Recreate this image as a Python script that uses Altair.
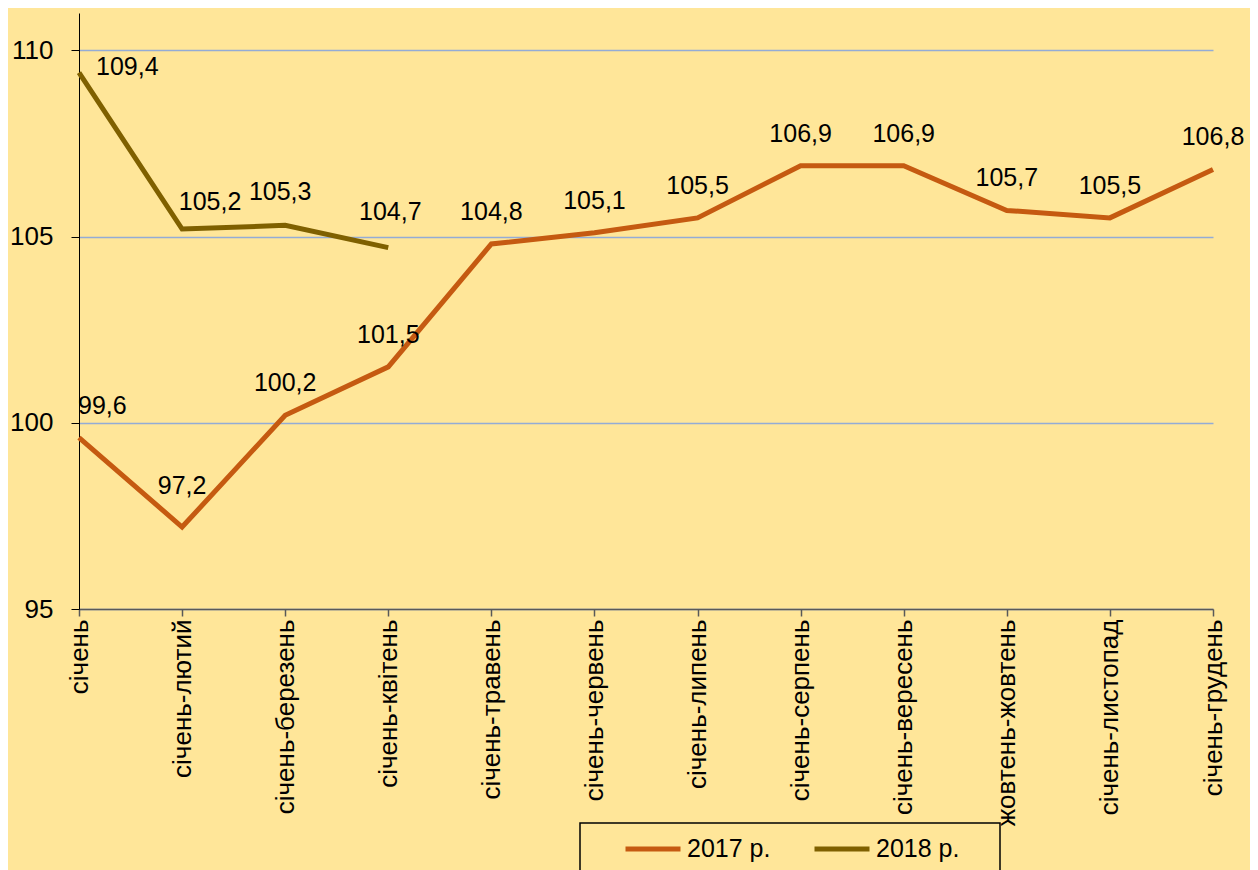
import altair as alt
import pandas as pd

months = ["січень", "січень-лютий", "січень-березень", "січень-квітень",
          "січень-травень", "січень-червень", "січень-липень", "січень-серпень",
          "січень-вересень", "жовтень-жовтень", "січень-листопад", "січень-грудень"]
v2017 = [99.6, 97.2, 100.2, 101.5, 104.8, 105.1, 105.5, 106.9, 106.9, 105.7, 105.5, 106.8]
v2018 = [109.4, 105.2, 105.3, 104.7]
series = ["2017 р.", "2018 р."]
colors = ["#C55A11", "#7F6000"]
y_ticks = [95, 100, 105, 110]

rows = []
for i, v in enumerate(v2017):
    rows.append({"month": months[i], "year": series[0], "value": v, "idx": i,
                 "label": f"{v:.1f}".replace(".", ",")})
for i, v in enumerate(v2018):
    rows.append({"month": months[i], "year": series[1], "value": v, "idx": i,
                 "label": f"{v:.1f}".replace(".", ",")})
df = pd.DataFrame(rows)

FONT = "Liberation Sans"

x_enc = alt.X("month:N", sort=months, title=None,
              scale=alt.Scale(type="point", padding=0),
              axis=alt.Axis(labelAngle=-90, labelAlign="right", labelBaseline="middle",
                            labelFontSize=26, labelFont=FONT, labelColor="#000000",
                            labelPadding=3, tickSize=7, tickColor="#595959",
                            domainColor="#595959", domainWidth=1.5, tickWidth=1.5,
                            grid=False, labelLimit=400))
y_enc = alt.Y("value:Q", title=None,
              scale=alt.Scale(domain=[95, 111], nice=False, zero=False),
              axis=alt.Axis(values=y_ticks, labelFontSize=26, labelFont=FONT,
                            labelColor="#000000", labelPadding=18, tickSize=8,
                            tickColor="#000000", domainColor="#000000", domainWidth=1,
                            grid=True, gridColor="#94ACD6", gridOpacity=1, gridWidth=1.3))

base = alt.Chart(df)

lines = base.mark_line(strokeWidth=5).encode(
    x=x_enc, y=y_enc,
    color=alt.Color("year:N", title=None,
                    scale=alt.Scale(domain=series, range=colors),
                    legend=alt.Legend(orient="none", legendX=544, legendY=806,
                                      direction="horizontal", symbolType="stroke",
                                      symbolStrokeWidth=5, symbolSize=3025,
                                      labelFontSize=25, labelFont=FONT,
                                      labelColor="#000000", columnPadding=33,
                                      labelOffset=4, padding=0))
)

def labels(year, cond, **kw):
    return base.transform_filter(
        (alt.datum.year == year) & cond
    ).mark_text(fontSize=25, font=FONT, color="#000000", **kw).encode(
        x=alt.X("month:N", sort=months), y="value:Q", text="label:N")

t17a = labels(series[0], alt.datum.idx == 0, align="left", dx=-1, dy=-32)
t17c = labels(series[0], alt.datum.idx == 1, align="center", dy=-41)
t17b = labels(series[0], alt.datum.idx > 1, align="center", dy=-32)
t18a = labels(series[1], alt.datum.idx == 0, align="left", dx=17, dy=-6)
t18b = labels(series[1], alt.datum.idx == 1, align="center", dx=28, dy=-27)
t18c = labels(series[1], alt.datum.idx == 2, align="center", dx=-5, dy=-33)
t18d = labels(series[1], alt.datum.idx == 3, align="center", dx=2, dy=-36)

box = alt.Chart(pd.DataFrame({"a": [0]})).mark_rect(
    fill="transparent", stroke="#000000", strokeWidth=1.5
).encode(x=alt.value(501), x2=alt.value(921), y=alt.value(810), y2=alt.value(900))

chart = alt.layer(lines, t17a, t17c, t17b, t18a, t18b, t18c, t18d, box).properties(
    width=1134, height=596,
    autosize=alt.AutoSizeParams(type="none"),
    padding={"left": 71, "top": 5, "right": 37, "bottom": 290},
    background="#FFE699",
).configure_view(stroke=None)

chart.save("out.html", embed_options={"renderer": "svg", "actions": False})
